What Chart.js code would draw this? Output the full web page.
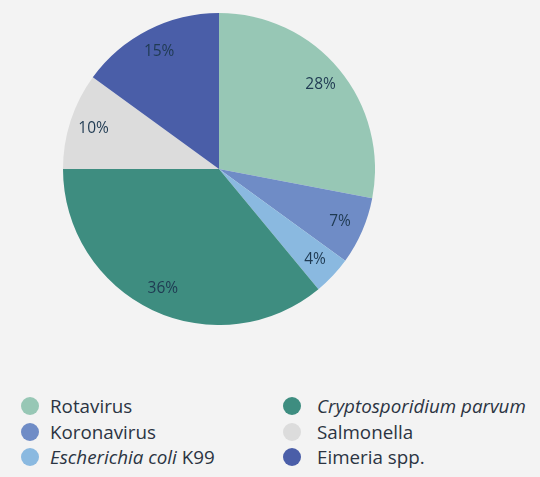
<!DOCTYPE html>
<html>
<head>
<meta charset="utf-8">
<script src="https://cdn.jsdelivr.net/npm/chart.js@4"></script>
<style>
  html, body { margin: 0; padding: 0; background: #f3f3f3; width: 540px; height: 477px; overflow: hidden; }
  #pieBox { position: absolute; left: 63px; top: 13px; width: 312px; height: 312px; }
  .leg { position: absolute; font-family: "Open Sans", sans-serif; font-size: 18.8px; color: #2b3442; line-height: 22px; white-space: nowrap; }
  .leg .dot { position: absolute; width: 18px; height: 18px; border-radius: 50%; top: 2px; }
  .leg .txt { position: absolute; top: 0; }
  i { font-style: italic; }
</style>
</head>
<body>
<div id="pieBox"><canvas id="c"></canvas></div>
<div id="legend"></div>
<script>
const categories = ["Rotavirus", "Koronavirus", "Escherichia coli K99", "Cryptosporidium parvum", "Salmonella", "Eimeria spp."];
const legendHtml = ["Rotavirus", "Koronavirus", "<i>Escherichia coli</i> K99", "<i>Cryptosporidium parvum</i>", "Salmonella", "Eimeria spp."];
const values = [28, 7, 4, 36, 10, 15];
const colors = ["#97c7b5", "#6f8cc6", "#8ab9e0", "#3e8d80", "#dcdcdc", "#4a5ea8"];

const labelPlugin = {
  id: 'pctLabels',
  afterDatasetsDraw(chart) {
    const ctx = chart.ctx;
    const meta = chart.getDatasetMeta(0);
    ctx.save();
    ctx.font = '15.5px "Open Sans", sans-serif';
    ctx.fillStyle = '#1f3a52';
    ctx.textAlign = 'center';
    ctx.textBaseline = 'middle';
    meta.data.forEach((arc, i) => {
      const p = arc.getProps(['x', 'y', 'startAngle', 'endAngle', 'outerRadius'], true);
      const mid = (p.startAngle + p.endAngle) / 2;
      const r = p.outerRadius * 0.845;
      ctx.fillText(values[i] + '%', p.x + Math.cos(mid) * r, p.y + Math.sin(mid) * r);
    });
    ctx.restore();
  }
};

new Chart(document.getElementById('c'), {
  type: 'pie',
  data: {
    labels: categories,
    datasets: [{ data: values, backgroundColor: colors, borderWidth: 0 }]
  },
  options: {
    responsive: true,
    maintainAspectRatio: false,
    animation: false,
    layout: { padding: 0 },
    plugins: { legend: { display: false }, tooltip: { enabled: false } }
  },
  plugins: [labelPlugin]
});

// Legend (two columns, three rows)
const legend = document.getElementById('legend');
const colX = [[21, 50], [283, 317]];
const rowY = [395, 420.5, 446];
categories.forEach((c, i) => {
  const col = Math.floor(i / 3), row = i % 3;
  const d = document.createElement('div');
  d.className = 'leg';
  d.style.left = '0px';
  d.style.top = rowY[row] + 'px';
  d.innerHTML = '<span class="dot" style="left:' + colX[col][0] + 'px;background:' + colors[i] + '"></span>' +
                '<span class="txt" style="left:' + colX[col][1] + 'px">' + legendHtml[i] + '</span>';
  legend.appendChild(d);
});
</script>
</body>
</html>
